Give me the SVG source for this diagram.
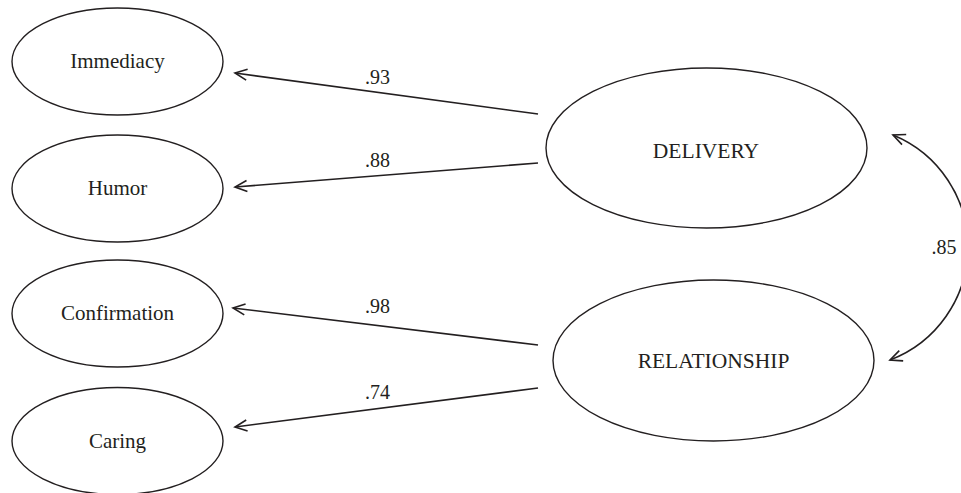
<svg xmlns="http://www.w3.org/2000/svg" width="961" height="493" viewBox="0 0 961 493">
  <style>
    .node ellipse { fill: #ffffff; stroke: #231f20; stroke-width: 1.4; }
    .lbl { font-family: "Liberation Serif", "Times New Roman", serif; font-size: 21px; fill: #231f20; text-anchor: middle; }
    .big { font-size: 21.5px; }
    .num { font-family: "Liberation Serif", "Times New Roman", serif; font-size: 20px; fill: #231f20; }
    .conn { fill: none; stroke: #231f20; stroke-width: 1.6; marker-end: url(#arr); }
  </style>
  <defs>
    <marker id="arr" viewBox="-14 -8 16 16" refX="0" refY="0" markerWidth="16" markerHeight="16" markerUnits="userSpaceOnUse" orient="auto-start-reverse">
      <path d="M-12,-5.5 L0,0 L-12,5.5" fill="none" stroke="#231f20" stroke-width="1.6" stroke-linejoin="miter"/>
    </marker>
  </defs>
  <rect width="961" height="493" fill="#ffffff"/>

  <g id="immediacy" class="node">
    <ellipse cx="117.5" cy="61.5" rx="105.5" ry="53.5"/>
    <text class="lbl" x="117.5" y="68">Immediacy</text>
  </g>
  <g id="humor" class="node">
    <ellipse cx="117.5" cy="188.5" rx="105.5" ry="53.5"/>
    <text class="lbl" x="117.5" y="195">Humor</text>
  </g>
  <g id="confirmation" class="node">
    <ellipse cx="117.5" cy="313.5" rx="105.5" ry="53.5"/>
    <text class="lbl" x="117.5" y="320">Confirmation</text>
  </g>
  <g id="caring" class="node">
    <ellipse cx="117.5" cy="441" rx="105.5" ry="53.5"/>
    <text class="lbl" x="117.5" y="447.5">Caring</text>
  </g>
  <g id="delivery" class="node">
    <ellipse cx="706.5" cy="148" rx="160.5" ry="80"/>
    <text class="lbl big" x="706" y="157.5">DELIVERY</text>
  </g>
  <g id="relationship" class="node">
    <ellipse cx="713.5" cy="360.5" rx="160.5" ry="80.5"/>
    <text class="lbl big" x="713.5" y="367.5">RELATIONSHIP</text>
  </g>

  <g id="connectors">
    <path class="conn" d="M538,114 L235,73"/>
    <path class="conn" d="M538,163 L235,187"/>
    <path class="conn" d="M538,345 L233,308"/>
    <path class="conn" d="M538,388 L235,427"/>
    <path class="conn" d="M893,135 A121,121 0 0 1 890,360" marker-start="url(#arr)"/>
    <text class="num" x="365" y="83.5">.93</text>
    <text class="num" x="365" y="167">.88</text>
    <text class="num" x="365" y="313">.98</text>
    <text class="num" x="365" y="398.5">.74</text>
    <text class="num" x="931.5" y="254">.85</text>
  </g>
</svg>
